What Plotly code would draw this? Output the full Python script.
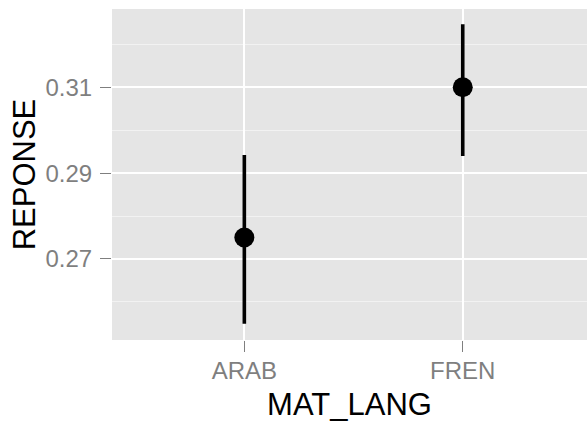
import plotly.graph_objects as go

# Mean response by mother tongue, with interval bounds
categories = ["ARAB", "FREN"]
means = [0.275, 0.310]
lower = [0.2549, 0.2940]
upper = [0.2942, 0.3247]

y_major = [0.27, 0.29, 0.31]
y_major_labels = ["0.27", "0.29", "0.31"]

err_plus = [u - m for u, m in zip(upper, means)]
err_minus = [m - l for m, l in zip(means, lower)]

fig = go.Figure()
fig.add_trace(go.Scatter(
    x=categories,
    y=means,
    mode="markers",
    marker=dict(color="black", size=20, symbol="circle", line=dict(width=0)),
    error_y=dict(type="data", array=err_plus, arrayminus=err_minus,
                 color="black", thickness=3.6, width=0, symmetric=False),
    showlegend=False,
    cliponaxis=False,
))

font_family = "Liberation Sans, Arial, sans-serif"

fig.update_layout(
    width=587,
    height=424,
    margin=dict(l=112, r=0, t=9, b=84),
    paper_bgcolor="white",
    plot_bgcolor="#E5E5E5",
    font=dict(family=font_family),
    xaxis=dict(
        type="category",
        range=[-0.606, 1.569],
        showgrid=True,
        gridcolor="white",
        gridwidth=1.6,
        zeroline=False,
        showline=False,
        ticks="outside",
        ticklen=11,
        tickwidth=1.2,
        tickcolor="#7F7F7F",
        ticklabelstandoff=-2,
        tickfont=dict(size=24, color="#7F7F7F", family=font_family),
        title=dict(text="MAT_LANG", font=dict(size=31, color="black", family=font_family), standoff=10),
    ),
    yaxis=dict(
        range=[0.2511, 0.32825],
        tickmode="array",
        tickvals=y_major,
        ticktext=y_major_labels,
        showgrid=True,
        gridcolor="white",
        gridwidth=1.6,
        zeroline=False,
        showline=False,
        ticks="outside",
        ticklen=11,
        tickwidth=1.2,
        tickcolor="#7F7F7F",
        ticklabelstandoff=3,
        tickfont=dict(size=24, color="#7F7F7F", family=font_family),
        minor=dict(tickmode="array", tickvals=[0.26, 0.28, 0.30, 0.32],
                   showgrid=True, gridcolor="#F2F2F2", gridwidth=1, ticks=""),
        title=dict(text="REPONSE", font=dict(size=31, color="black", family=font_family), standoff=0),
    ),
)

fig.write_html("out.html")
